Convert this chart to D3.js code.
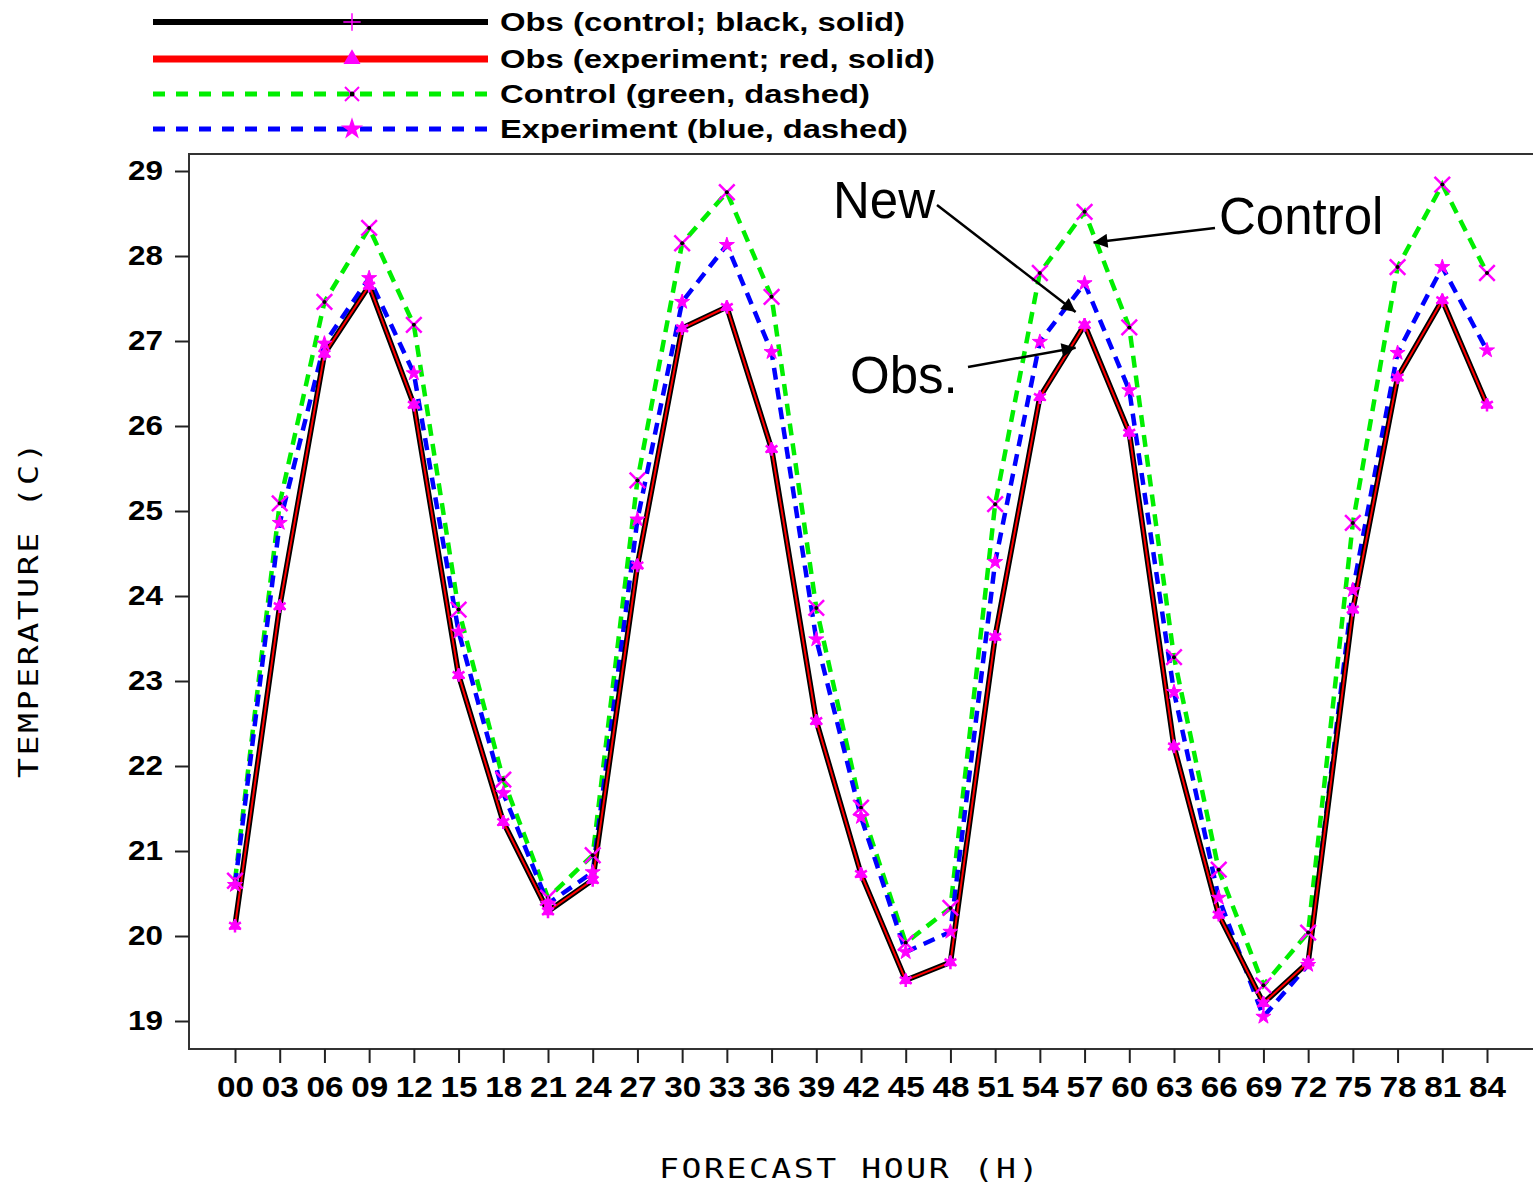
<!DOCTYPE html>
<html><head><meta charset="utf-8">
<script src="https://cdn.jsdelivr.net/npm/d3@7"></script>
<style>body{margin:0;background:#fff}svg{display:block}</style>
</head><body>
<script>
const hours = [0,3,6,9,12,15,18,21,24,27,30,33,36,39,42,45,48,51,54,57,60,63,66,69,72,75,78,81,84];
const hourLabels = hours.map(h => String(h).padStart(2,'0'));
const yTicks = [19,20,21,22,23,24,25,26,27,28,29];
const obs = [20.12,23.88,26.85,27.65,26.25,23.07,21.34,20.29,20.66,24.36,27.15,27.40,25.73,22.53,20.73,19.48,19.69,23.52,26.34,27.19,25.92,22.23,20.25,19.21,19.69,23.84,26.57,27.48,26.25];
const control = [20.65,25.09,27.46,28.33,27.19,23.84,21.84,20.45,20.95,25.36,28.15,28.75,27.52,23.86,21.51,19.92,20.33,25.08,27.80,28.52,27.16,23.28,20.78,19.42,20.04,24.86,27.87,28.84,27.80];
const experiment = [20.60,24.86,26.97,27.74,26.62,23.58,21.68,20.38,20.75,24.90,27.46,28.13,26.87,23.49,21.40,19.81,20.05,24.40,26.99,27.68,26.42,22.87,20.45,19.05,19.66,24.07,26.86,27.87,26.89];
const legendLabels = ["Obs (control; black, solid)","Obs (experiment; red, solid)","Control (green, dashed)","Experiment (blue, dashed)"];

const W = 1533, H = 1186;
const svg = d3.select("body").append("svg").attr("width",W).attr("height",H);
const x = d3.scaleLinear().domain([0,84]).range([235,1487]);
const y = d3.scaleLinear().domain([19,29]).range([1021,171]);
const frameL = 189, frameT = 154, frameB = 1049;

// frame
svg.append("path").attr("d",`M${W+2},${frameT}H${frameL}V${frameB}H${W+2}`)
  .attr("fill","none").attr("stroke","#333").attr("stroke-width",2);

// y axis
const yAxis = d3.axisLeft(y).tickValues(yTicks).tickSize(14).tickPadding(12).tickFormat(d3.format("d"));
const gy = svg.append("g").attr("transform",`translate(${frameL},0)`).call(yAxis);
gy.select(".domain").remove();
gy.selectAll(".tick line").attr("stroke","#222").attr("stroke-width",2);
gy.selectAll(".tick text").attr("font-family","Liberation Sans, Arial, sans-serif").attr("font-weight","bold")
  .attr("font-size",27).attr("fill","#000").attr("textLength",35).attr("lengthAdjust","spacingAndGlyphs");

// x axis
const xAxis = d3.axisBottom(x).tickValues(hours).tickSize(14).tickPadding(13).tickFormat((d,i)=>hourLabels[i]);
const gx = svg.append("g").attr("transform",`translate(0,${frameB})`).call(xAxis);
gx.select(".domain").remove();
gx.selectAll(".tick line").attr("stroke","#222").attr("stroke-width",2);
gx.selectAll(".tick text").attr("font-family","Liberation Sans, Arial, sans-serif").attr("font-weight","bold")
  .attr("font-size",29).attr("fill","#000").attr("textLength",37).attr("lengthAdjust","spacingAndGlyphs");

// axis titles
svg.append("text").attr("x",850).attr("y",1178).attr("text-anchor","middle")
  .attr("font-family","DejaVu Sans Mono, monospace").attr("font-size",26).attr("letter-spacing","2px")
  .attr("textLength",382).attr("lengthAdjust","spacingAndGlyphs").text("FORECAST HOUR (H)");
svg.append("text").attr("transform","translate(38,609) rotate(-90)").attr("text-anchor","middle")
  .attr("font-family","DejaVu Sans Mono, monospace").attr("font-size",26).attr("letter-spacing","2px")
  .attr("textLength",338).attr("lengthAdjust","spacingAndGlyphs").text("TEMPERATURE (C)");

const line = d3.line().x((d,i)=>x(hours[i])).y(d=>y(d));
const plot = svg.append("g");
plot.append("path").datum(control).attr("d",line).attr("fill","none").attr("stroke","#00ee00").attr("stroke-width",4.5).attr("stroke-dasharray","12,8");
plot.append("path").datum(experiment).attr("d",line).attr("fill","none").attr("stroke","#0000ff").attr("stroke-width",4.5).attr("stroke-dasharray","12,8");
plot.append("path").datum(obs).attr("d",line).attr("fill","none").attr("stroke","#000").attr("stroke-width",5.5);
plot.append("path").datum(obs).attr("d",line).attr("fill","none").attr("stroke","#ff0000").attr("stroke-width",2);

const mag = "#ff00ff";
function markers(data, type, size, sw){
  plot.selectAll(null).data(data).enter().append("path")
    .attr("transform",(d,i)=>`translate(${x(hours[i])},${y(d)})`)
    .attr("d",d3.symbol().type(type).size(size))
    .attr("fill", (type===d3.symbolX||type===d3.symbolPlus||type===d3.symbolAsterisk)?"none":mag)
    .attr("stroke",mag).attr("stroke-width",sw);
}
markers(control, d3.symbolX, 160, 2.5);
plot.selectAll(null).data(control).enter().append("circle")
  .attr("cx",(d,i)=>x(hours[i])).attr("cy",d=>y(d)).attr("r",2).attr("fill","#000");
markers(experiment, d3.symbolStar, 70, 1);
markers(obs, d3.symbolTriangle, 60, 1);
markers(obs, d3.symbolAsterisk, 130, 2.5);

// legend
const legendStyles = [
  {c:"#000", w:6, dash:null, sym:d3.symbolPlus, fill:"none", size:100},
  {c:"#ff0000", w:7, dash:null, sym:d3.symbolTriangle, fill:mag, size:80},
  {c:"#00ee00", w:5, dash:"12,11", sym:d3.symbolX, fill:"none", size:130},
  {c:"#0000ff", w:5, dash:"12,11", sym:d3.symbolStar, fill:mag, size:80}
];
const legendY = [22,59,94,129];
const legendLen = [405,435,370,408];
legendLabels.forEach((lab,i)=>{
  const st = legendStyles[i];
  const gl = svg.append("g");
  gl.append("line").attr("x1",153).attr("x2",488).attr("y1",legendY[i]).attr("y2",legendY[i])
    .attr("stroke",st.c).attr("stroke-width",st.w).attr("stroke-dasharray",st.dash);
  gl.append("path").attr("transform",`translate(352,${legendY[i]})`)
    .attr("d",d3.symbol().type(st.sym).size(st.size)).attr("fill",st.fill).attr("stroke",mag).attr("stroke-width",i===0?1.5:2);
  if(i===2) gl.append("circle").attr("cx",352).attr("cy",legendY[i]).attr("r",2.5).attr("fill","#000");
  gl.append("text").attr("x",500).attr("y",legendY[i]+9).attr("font-family","Liberation Sans, Arial, sans-serif")
    .attr("font-weight","bold").attr("font-size",26).attr("textLength",legendLen[i]).attr("lengthAdjust","spacingAndGlyphs").text(lab);
});

// annotations
const defs = svg.append("defs");
defs.append("marker").attr("id","arr").attr("viewBox","0 0 10 10").attr("refX",10).attr("refY",5)
  .attr("orient","auto").attr("markerUnits","userSpaceOnUse")
  .attr("markerWidth",18).attr("markerHeight",14)
  .append("path").attr("d","M0,0L10,5L0,10z").attr("fill","#000");
const annotations = [
  {text:"New", tx:833, ty:218, from:[937,205], toH:56.4, toV:27.34},
  {text:"Control", tx:1219, ty:234, from:[1215,228], toH:57.6, toV:28.16},
  {text:"Obs.", tx:850, ty:393, from:[968,367], toH:56.4, toV:26.92}
];
annotations.forEach(a=>{
  svg.append("text").attr("x",a.tx).attr("y",a.ty).attr("font-family","Liberation Sans, Arial, sans-serif")
    .attr("font-size",51).attr("fill","#000").text(a.text);
  svg.append("line").attr("x1",a.from[0]).attr("y1",a.from[1]).attr("x2",x(a.toH)).attr("y2",y(a.toV))
    .attr("stroke","#000").attr("stroke-width",2.5).attr("marker-end","url(#arr)");
});
</script>
</body></html>
